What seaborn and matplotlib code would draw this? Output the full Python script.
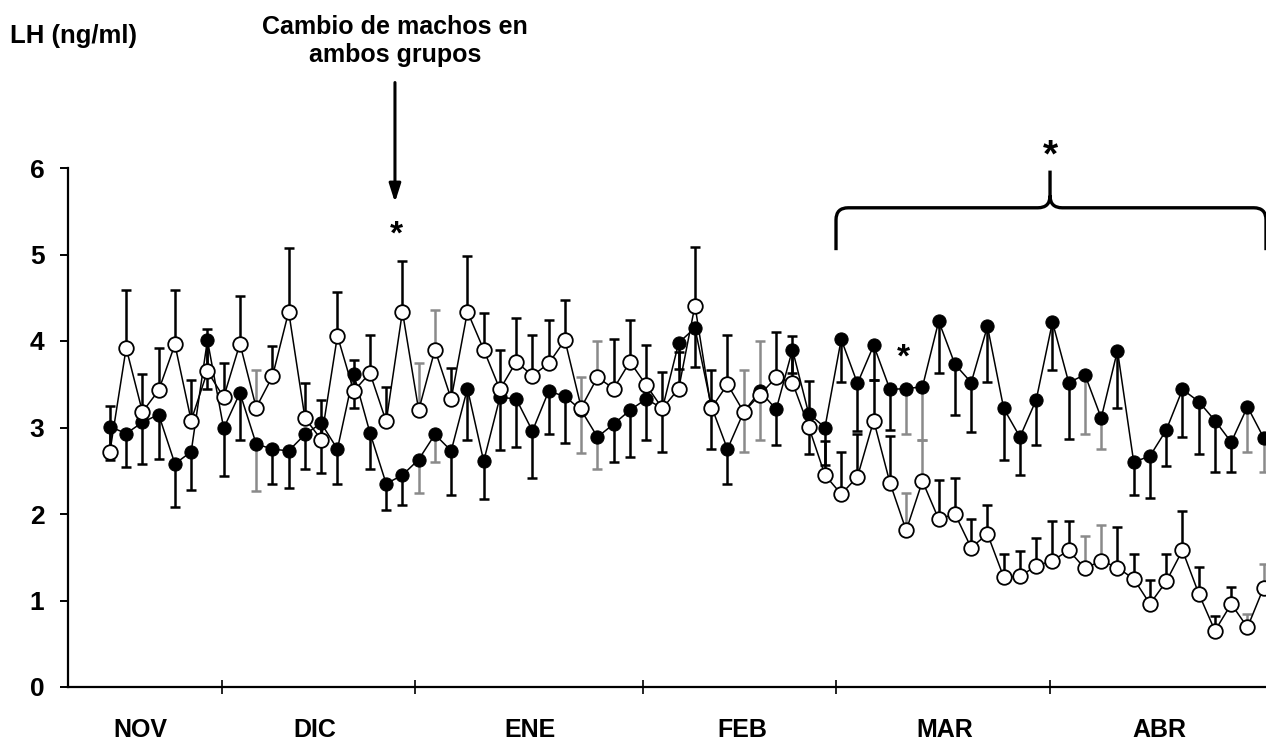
import numpy as np
import pandas as pd
import matplotlib
matplotlib.use("Agg")
import matplotlib.pyplot as plt
from matplotlib.path import Path
from matplotlib.patches import PathPatch
import seaborn as sns

# Data, one sample every ~2-3 days, NOV -> ABR
filled_mean = [3.01, 2.93, 3.06, 3.15, 2.58, 2.72, 4.01, 2.99, 3.40, 2.81,
               2.75, 2.73, 2.92, 3.05, 2.75, 3.62, 2.94, 2.35, 2.45, 2.63,
               2.92, 2.73, 3.45, 2.61, 3.35, 3.33, 2.96, 3.42, 3.36, 3.20,
               2.89, 3.04, 3.20, 3.33, 3.22, 3.98, 4.15, 3.25, 2.75, 3.18,
               3.42, 3.21, 3.90, 3.16, 3.00, 4.02, 3.51, 3.95, 3.44, 3.45,
               3.47, 4.23, 3.73, 3.52, 4.17, 3.22, 2.89, 3.32, 4.22, 3.52,
               3.61, 3.11, 3.89, 2.60, 2.67, 2.97, 3.44, 3.30, 3.08, 2.83,
               3.24, 2.88]
filled_sem = [0.39, 0.39, 0.48, 0.51, 0.50, 0.44, 0.57, 0.55, 0.55, 0.54,
              0.40, 0.43, 0.40, 0.58, 0.40, 0.39, 0.42, 0.30, 0.35, 0.39,
              0.32, 0.51, 0.60, 0.44, 0.61, 0.56, 0.54, 0.50, 0.54, 0.50,
              0.37, 0.44, 0.54, 0.48, 0.50, 0.30, 0.45, 0.50, 0.40, 0.46,
              0.57, 0.41, 0.27, 0.47, 0.43, 0.49, 0.55, 0.40, 0.47, 0.53,
              0.62, 0.60, 0.58, 0.57, 0.64, 0.60, 0.44, 0.52, 0.55, 0.65,
              0.69, 0.36, 0.67, 0.38, 0.48, 0.42, 0.55, 0.61, 0.59, 0.34,
              0.52, 0.39]
open_mean = [2.72, 3.92, 3.18, 3.43, 3.96, 3.08, 3.65, 3.35, 3.97, 3.23,
             3.59, 4.34, 3.11, 2.86, 4.06, 3.42, 3.63, 3.07, 4.34, 3.20,
             3.90, 3.33, 4.34, 3.90, 3.44, 3.76, 3.60, 3.74, 4.01, 3.23,
             3.58, 3.45, 3.76, 3.49, 3.22, 3.45, 4.41, 3.22, 3.50, 3.18,
             3.38, 3.58, 3.52, 3.01, 2.45, 2.23, 2.43, 3.08, 2.36, 1.81,
             2.38, 1.94, 2.00, 1.61, 1.77, 1.27, 1.28, 1.40, 1.46, 1.58,
             1.37, 1.46, 1.38, 1.25, 0.96, 1.22, 1.58, 1.08, 0.65, 0.96,
             0.69, 1.15]
open_sem = [0.53, 0.67, 0.44, 0.49, 0.63, 0.47, 0.49, 0.40, 0.55, 0.44,
            0.35, 0.73, 0.41, 0.46, 0.51, 0.36, 0.44, 0.40, 0.58, 0.54,
            0.46, 0.36, 0.64, 0.42, 0.46, 0.51, 0.47, 0.50, 0.46, 0.35,
            0.42, 0.57, 0.48, 0.46, 0.42, 0.42, 0.68, 0.45, 0.57, 0.49,
            0.62, 0.52, 0.54, 0.53, 0.39, 0.49, 0.50, 0.47, 0.54, 0.43,
            0.47, 0.45, 0.42, 0.33, 0.33, 0.27, 0.29, 0.32, 0.46, 0.34,
            0.37, 0.41, 0.47, 0.29, 0.28, 0.32, 0.46, 0.31, 0.17, 0.20,
            0.15, 0.27]

months = ["NOV", "DIC", "ENE", "FEB", "MAR", "ABR"]
month_edges = [6.89, 18.77, 32.8, 44.68, 57.85]     # sample index of month boundaries
month_centres = [1.85, 12.6, 25.85, 38.9, 51.4, 64.55]
grey_bars = [9, 19, 20, 29, 30, 39, 40, 49, 50, 60, 61, 70, 71]

df = pd.DataFrame({"muestra": np.arange(len(filled_mean)),
                   "lleno": filled_mean, "lleno_ee": filled_sem,
                   "vacio": open_mean, "vacio_ee": open_sem})

sns.set_style("ticks")
plt.rcParams["font.family"] = ["Liberation Sans", "DejaVu Sans"]
plt.rcParams["font.weight"] = "bold"
plt.rcParams["text.color"] = "black"
plt.rcParams["xtick.color"] = "black"
plt.rcParams["ytick.color"] = "black"
plt.rcParams["axes.edgecolor"] = "black"

fig = plt.figure(figsize=(12.66, 7.42), dpi=100)
ax = fig.add_axes([68 / 1266, 1 - 687 / 742, 1 - 68 / 1266, (687 - 168) / 742])

bar_col = ["#8a8a8a" if i in grey_bars else "black" for i in df["muestra"]]

# filled group: error bars downwards
for i, row in df.iterrows():
    ax.errorbar(row["muestra"], row["lleno"], yerr=[[row["lleno_ee"]], [0]],
                fmt="none", ecolor=bar_col[i], elinewidth=1.8, capsize=3.4,
                capthick=1.8, zorder=2)
sns.lineplot(data=df, x="muestra", y="lleno", ax=ax, color="black",
             linewidth=1.1, marker="o", markersize=9.5,
             markerfacecolor="black", markeredgecolor="black", zorder=3)

# open group: error bars upwards
for i, row in df.iterrows():
    ax.errorbar(row["muestra"], row["vacio"], yerr=[[0], [row["vacio_ee"]]],
                fmt="none", ecolor=bar_col[i], elinewidth=1.8, capsize=3.4,
                capthick=1.8, zorder=2)
sns.lineplot(data=df, x="muestra", y="vacio", ax=ax, color="black",
             linewidth=1.1, marker="o", markersize=10.5,
             markerfacecolor="white", markeredgecolor="black",
             markeredgewidth=1.3, zorder=4)

ax.set_xlim(-2.58, 71.14)
ax.set_ylim(0, 6)
ax.set_xlabel("")
ax.set_ylabel("")
sns.despine(ax=ax)
for s in ["left", "bottom"]:
    ax.spines[s].set_linewidth(1.6)

ax.set_yticks(range(7))
ax.set_yticklabels([str(v) for v in range(7)], fontsize=19, fontweight="bold")
ax.tick_params(axis="y", length=6, width=1.4, pad=11)

ax.set_xticks(month_edges)
ax.set_xticklabels([])
ax.tick_params(axis="x", which="major", direction="inout", length=10, width=1.2)
ax.set_xticks(month_centres, minor=True)
ax.set_xticklabels(months, minor=True, fontsize=18, fontweight="bold")
ax.tick_params(axis="x", which="minor", length=0, pad=22)

fig.text(10 / 1266, 1 - 36 / 742, "LH (ng/ml)", fontsize=18.5, fontweight="bold",
         ha="left", va="center")

# annotations
ax.text(17.54, 7.47, "Cambio de machos en\nambos grupos", fontsize=18,
        fontweight="bold", ha="center", va="center", linespacing=1.2, clip_on=False)
ax.annotate("", xy=(17.54, 5.57), xytext=(17.54, 7.02), annotation_clip=False,
            arrowprops=dict(arrowstyle="-|>,head_length=1.1,head_width=0.35",
                            color="black", lw=2.2))
ax.text(17.6, 5.22, "*", fontsize=24, fontweight="bold", ha="center",
        va="center", clip_on=False)
ax.text(48.8, 3.80, "*", fontsize=24, fontweight="bold", ha="center",
        va="center", clip_on=False)
ax.text(57.85, 6.13, "*", fontsize=28, fontweight="bold", ha="center",
        va="center", clip_on=False)

# curly brace over MAR-ABR
xl, xm, xr = 44.68, 57.85, 71.14
yb, yh, yt = 5.05, 5.54, 5.97
rx, ry = 0.75, 0.14
verts = [(xl, yb), (xl, yh - ry), (xl, yh), (xl + rx, yh),
         (xm - rx, yh), (xm, yh), (xm, yh + ry), (xm, yt),
         (xm, yh + ry), (xm, yh), (xm + rx, yh),
         (xr - rx, yh), (xr, yh), (xr, yh - ry), (xr, yb)]
codes = [Path.MOVETO, Path.LINETO, Path.CURVE3, Path.CURVE3,
         Path.LINETO, Path.CURVE3, Path.CURVE3, Path.LINETO,
         Path.MOVETO, Path.CURVE3, Path.CURVE3,
         Path.LINETO, Path.CURVE3, Path.CURVE3, Path.LINETO]
ax.add_patch(PathPatch(Path(verts, codes), fill=False, lw=2.4, color="black",
                       clip_on=False))

fig.savefig("out.png", dpi=100)
